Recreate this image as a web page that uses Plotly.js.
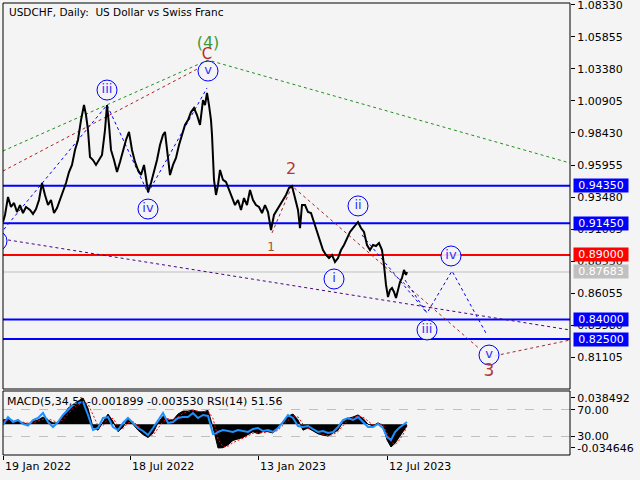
<!DOCTYPE html>
<html><head><meta charset="utf-8">
<script src="https://cdn.plot.ly/plotly-3.0.1.min.js"></script>
<style>html,body{margin:0;padding:0;background:#f4f4f4}#chart{width:640px;height:480px}</style>
</head><body><div id="chart"></div>
<script>
// ---------- price (daily closes, bar index from 19 Jan 2022) ----------
const priceBar = [0,2,5,8,11,14,17,20,23,27,30,33,36,39,42,45,48,51,54,57,60,63,66,69,72,75,78,81,83,85,87,90,93,96,99,102,104,106,108,111,114,117,120,123,126,129,132,135,138,141,143,145,148,151,154,157,160,162,165,167,170,173,176,179,182,185,188,191,194,197,200,202,204,206,208,209,211,213,215,217,220,223,226,229,232,235,238,241,244,247,250,253,256,259,262,265,268,271,274,277,280,283,286,289,292,295,297,299,302,305,308,311,314,317,320,323,326,329,332,335,338,341,344,347,350,353,355,358,361,364,367,370,373,376,379,381,383,385,387,389,391,393,395,397,399,401,403,404];
const priceClose = [0.9155,0.9209,0.9348,0.9271,0.9302,0.9232,0.9286,0.9224,0.9271,0.9248,0.9217,0.9255,0.9325,0.9456,0.9364,0.9286,0.9325,0.9224,0.9263,0.9325,0.9402,0.9456,0.9541,0.9596,0.9712,0.9789,0.9943,1.0059,0.9982,0.9866,0.9657,0.9634,0.9596,0.9634,0.9673,0.9866,1.0059,0.9905,0.9712,0.9634,0.9541,0.9619,0.9712,0.9789,0.9851,0.9712,0.9619,0.9557,0.9518,0.9596,0.9495,0.9387,0.9456,0.9541,0.9634,0.9750,0.9828,0.9851,0.9673,0.9518,0.9596,0.9650,0.9750,0.9828,0.9905,0.9943,1.0005,1.0036,0.9982,0.9905,1.0098,1.0059,1.0152,1.0059,0.9943,0.9828,0.9480,0.9364,0.9441,0.9557,0.9480,0.9464,0.9402,0.9340,0.9286,0.9325,0.9248,0.9340,0.9286,0.9402,0.9325,0.9286,0.9271,0.9224,0.9286,0.9232,0.9093,0.9209,0.9248,0.9286,0.9325,0.9364,0.9418,0.9433,0.9340,0.9248,0.9108,0.9286,0.9286,0.9232,0.9224,0.9155,0.9078,0.9000,0.8938,0.8900,0.8876,0.8900,0.8846,0.8876,0.8938,0.8977,0.9031,0.9078,0.9108,0.9132,0.9155,0.9108,0.9078,0.8977,0.8938,0.8977,0.8969,0.8992,0.8938,0.8822,0.8668,0.8575,0.8629,0.8645,0.8614,0.8567,0.8629,0.8691,0.8722,0.8784,0.8745,0.8768];

// ---------- axes ----------
const priceTicks = [1.08330,1.05855,1.03380,1.00905,0.98430,0.95955,0.93480,0.91005,0.88530,0.86055,0.83580,0.81105];
const dateTickBars = [0,127,255,384];
const dateTickLabels = ['19 Jan 2022','18 Jul 2022','13 Jan 2023','12 Jul 2023'];

// ---------- levels ----------
const levelValues = [0.94350,0.91450,0.89000,0.87683,0.84000,0.82500];
const levelLabels = ['0.94350','0.91450','0.89000','0.87683','0.84000','0.82500'];
const levelColors = ['#0000ff','#0000ff','#ff0000','#c0c0c0','#0000ff','#0000ff'];
const levelWidths = [2,2,2,1,2,2];

// ---------- wave mark-up ----------
const circleBar = [-6,104,145,205,331,355,424,448,486];
const circlePrice = [0.9008,1.0175,0.9255,1.0322,0.8714,0.9279,0.8320,0.8892,0.8126];
const circleText = ['','iii','iv','v','i','ii','iii','iv','v'];
const waveTextBar = [205,204,288,268,486];
const waveTextPrice = [1.0531,1.0446,0.9557,0.8954,0.7995];
const waveText = ['(4)','C','2','1','3'];
const waveTextColor = ['#3d9b35','#c0282a','#b03a30','#a0522d','#b03a30'];
const waveTextSize = [16,15,16,12,17];

const greenBar = [0,205,567], greenPrice = [0.9704,1.0407,0.9611];
const redBar = [0,200], redPrice = [0.9549,1.0361];
const brownBar = [269,289,486,567], brownPrice = [0.9070,0.9433,0.8111,0.8242];
const purpleBar = [5,567], purplePrice = [0.9016,0.8320];
const blue1Bar = [-3,104,145,204], blue1Price = [0.9062,1.0059,0.9379,1.0191];
const blue2Bar = [359,424], blue2Price = [0.9054,0.8451];
const blueProjBar = [402,424,449,484], blueProjPrice = [0.8706,0.8451,0.8776,0.8281];

// ---------- indicators ----------
const indBar = [0,5,10,15,20,25,30,35,40,45,50,55,60,65,70,75,80,85,90,95,100,105,110,115,120,125,130,135,140,145,150,155,160,165,170,175,180,185,190,195,200,205,210,213,215,220,225,230,235,240,245,250,255,260,265,270,275,280,285,290,295,300,305,310,315,320,325,330,335,340,345,350,355,360,365,370,375,380,384,388,392,396,400,404];
const macdMain = [0.0064,0.0075,0.0043,0.0043,0.0021,0.0,0.0043,0.0064,0.0107,0.0064,
 0.0021,0.0021,0.0128,0.0235,0.0289,0.034,0.0385,0.0235,-0.0043,-0.0086,
 0.0043,0.015,0.0043,-0.0107,-0.0043,0.0086,0.0,-0.0086,-0.015,-0.0193,
 -0.0128,0.0021,0.0118,0.0064,0.0064,0.015,0.0193,0.0193,0.021,0.0182,
 0.0182,0.0203,-0.0043,-0.0257,-0.0346,
 -0.0342,-0.03,-0.0235,-0.0214,-0.0193,-0.015,-0.0107,-0.0139,-0.0107,-0.0107,
 -0.0128,-0.0043,0.0043,0.0118,0.015,0.0064,-0.0086,-0.0054,-0.0096,-0.0139,
 -0.016,-0.0171,-0.0128,-0.0086,0.0032,0.0086,0.0107,0.0137,0.0086,0.0,
 -0.0021,0.0021,-0.0021,-0.0229,-0.0332,-0.0278,-0.0193,-0.0107,-0.0019];
const macdSignal = [0.0043,0.0064,0.006,0.0047,0.0032,0.0017,0.0021,0.0043,0.0075,0.0081,
 0.0054,0.0026,0.0064,0.015,0.0235,0.0278,0.0321,0.03,0.0128,-0.0021,
 -0.0021,0.0086,0.0086,-0.0021,-0.0064,0.0021,0.0043,-0.0021,-0.0107,-0.015,
 -0.016,-0.0064,0.0043,0.0086,0.0064,0.0107,0.016,0.0188,0.0199,0.0193,
 0.0182,0.0193,0.0086,-0.0086,-0.0214,
 -0.0332,-0.0321,-0.0268,-0.0231,-0.0203,-0.0171,-0.0128,-0.0128,-0.0124,-0.0107,
 -0.0118,-0.0086,-0.0011,0.0064,0.0128,0.0107,0.0,-0.0064,-0.0075,-0.0118,
 -0.015,-0.0167,-0.015,-0.0107,-0.0021,0.0064,0.0096,0.0124,0.0107,0.0043,
 -0.0011,0.0,0.0,-0.0128,-0.0257,-0.03,-0.0235,-0.015,-0.00353];
const rsi = [46.9,59.2,51.5,54.6,48.5,46,54.6,57.7,65.4,51.5,
 43.8,51.5,62.3,70,77.7,80.8,82.3,62.3,39.2,42.3,
 57.7,59.2,43.8,39.2,50,57.7,50,42.3,37.7,31.5,
 42.3,54.6,65.4,50,51.5,57.7,59.2,59.2,65.4,57.7,
 62.3,60.8,33,34,36.2,
 39.2,37.7,36.2,39.2,37.7,36.2,40.8,42.3,37.7,39.2,
 36.2,42.3,51.5,62.3,57.7,45.4,43.8,45.4,40.8,36.2,
 37.7,34.6,36.2,43.8,54.6,57.7,54.6,59.2,51.5,43.8,
 43.8,48.5,42.3,28.5,23.8,36.2,42.3,46.9,51.56];
const macdTicks = [0.038492,-0.034646];
const rsiTicks = [70,30];

const FONT = 'DejaVu Sans';
const traces = [];
function dotted(xs, ys, color){
  traces.push({x:xs, y:ys, type:'scatter', mode:'lines', xaxis:'x', yaxis:'y',
    line:{color:color, width:1, dash:'3px,3px'}, hoverinfo:'skip'});
}
// levels
levelValues.forEach((v,i)=>{
  traces.push({x:[0,567], y:[v,v], type:'scatter', mode:'lines', xaxis:'x', yaxis:'y',
    line:{color:levelColors[i], width:levelWidths[i]}, hoverinfo:'skip'});
});
dotted(greenBar, greenPrice, '#1f8f1f');
dotted(redBar, redPrice, '#b22222');
dotted(brownBar, brownPrice, '#a0282a');
dotted(purpleBar, purplePrice, '#4b0082');
dotted(blue1Bar, blue1Price, '#0000ff');
dotted(blue2Bar, blue2Price, '#0000ff');
dotted(blueProjBar, blueProjPrice, '#0000ff');
// price
traces.push({x:priceBar, y:priceClose, type:'scatter', mode:'lines', xaxis:'x', yaxis:'y',
  line:{color:'#000', width:2}, hoverinfo:'skip'});
// wave circles
traces.push({x:circleBar, y:circlePrice, text:circleText, type:'scatter', mode:'markers+text',
  xaxis:'x', yaxis:'y', textposition:'middle center',
  marker:{symbol:'circle', size:20, color:'rgba(244,244,244,0.9)', line:{color:'#0000ff', width:1}},
  textfont:{family:FONT, size:13, color:'#3030ff'}, hoverinfo:'skip'});
traces.push({x:waveTextBar, y:waveTextPrice, text:waveText, type:'scatter', mode:'text',
  xaxis:'x', yaxis:'y', textposition:'middle center',
  textfont:{family:FONT, size:waveTextSize, color:waveTextColor}, hoverinfo:'skip'});
// indicators
traces.push({x:indBar, y:macdMain, type:'scatter', mode:'lines', xaxis:'x', yaxis:'y2',
  fill:'tozeroy', fillcolor:'#000', line:{color:'#000', width:1}, hoverinfo:'skip'});
traces.push({x:indBar, y:macdSignal, type:'scatter', mode:'lines', xaxis:'x', yaxis:'y2',
  line:{color:'#ff0000', width:1, dash:'2px,2px'}, hoverinfo:'skip'});
traces.push({x:indBar, y:rsi, type:'scatter', mode:'lines', xaxis:'x', yaxis:'y3',
  line:{color:'#1e90ff', width:2}, hoverinfo:'skip'});

const annotations = [
  {xref:'paper', yref:'paper', x:0.007, y:0.980, xanchor:'left', yanchor:'middle', showarrow:false,
   text:'USDCHF, Daily:  US Dollar vs Swiss Franc', font:{family:FONT, size:10.5, color:'#000'}},
  {xref:'paper', yref:'paper', x:0.004, y:0.1173, xanchor:'left', yanchor:'middle', showarrow:false,
   text:'MACD(5,34,5) -0.001899 -0.003530 RSI(14) 51.56', font:{family:FONT, size:11, color:'#000'}}
];
dateTickBars.forEach((b,i)=>annotations.push({xref:'x', yref:'paper', x:b, y:-0.0265, xanchor:'left', yanchor:'middle',
  showarrow:false, text:dateTickLabels[i], font:{family:FONT, size:11, color:'#000'}}));
levelValues.forEach((v,i)=>annotations.push({xref:'paper', yref:'y', x:1.0053, y:v, xanchor:'left', yanchor:'middle',
  showarrow:false, text:levelLabels[i], bgcolor:levelColors[i], width:54, height:13, borderpad:0,
  font:{family:FONT, size:11, color:'#fff'}}));

const layout = {
  width:640, height:480,
  margin:{l:3, r:70, t:3, b:25},
  paper_bgcolor:'#f4f4f4', plot_bgcolor:'#f4f4f4',
  showlegend:false,
  font:{family:FONT, size:11, color:'#000'},
  xaxis:{range:[0,567], anchor:'y2', showgrid:false, zeroline:false, tickvals:dateTickBars,
    ticks:'outside', ticklen:4, tickcolor:'#000', showticklabels:false, fixedrange:true},
  yaxis:{domain:[0.146,1], range:[0.78635,1.08481], side:'right', anchor:'x', tickvals:priceTicks,
    tickformat:'.5f', ticks:'outside', ticklen:4, tickcolor:'#000', showgrid:false, zeroline:false,
    ticklabeloverflow:'allow', tickfont:{family:FONT, size:11, color:'#000'}},
  yaxis2:{domain:[0,0.1416], range:[-0.04489,0.04873], side:'right', anchor:'x', tickvals:macdTicks,
    ticktext:['0.038492','-0.034646'], ticks:'outside', ticklen:4, tickcolor:'#000', showgrid:false, zeroline:false,
    ticklabeloverflow:'allow', tickfont:{family:FONT, size:11, color:'#000'}},
  yaxis3:{overlaying:'y2', range:[0.8,99.2], side:'right', anchor:'x', tickvals:rsiTicks,
    ticktext:['70.00','30.00'], ticks:'outside', ticklen:4, tickcolor:'#000', showgrid:true,
    gridcolor:'#c0c0c0', griddash:'dash', gridwidth:1, zeroline:false,
    ticklabeloverflow:'allow', tickfont:{family:FONT, size:11, color:'#000'}},
  shapes:[
    {type:'rect', xref:'paper', yref:'paper', x0:0, x1:1, y0:0.146, y1:1, line:{color:'#000', width:1}},
    {type:'rect', xref:'paper', yref:'paper', x0:0, x1:1, y0:0, y1:0.1416, line:{color:'#000', width:1}}
  ],
  annotations:annotations
};
Plotly.newPlot('chart', traces, layout, {displayModeBar:false, staticPlot:true});
</script></body></html>
